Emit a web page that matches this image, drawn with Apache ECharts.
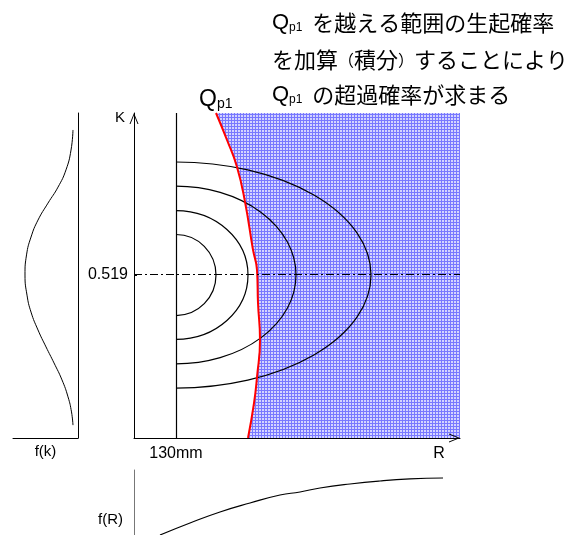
<!DOCTYPE html>
<html>
<head>
<meta charset="utf-8">
<script src="https://cdn.jsdelivr.net/npm/echarts@6/dist/echarts.min.js"></script>
<style>
html, body { margin: 0; padding: 0; background: #fff; }
#chart { width: 575px; height: 535px; }
</style>
</head>
<body>
<div id="chart"></div>
<script>
// axes ranges (R in mm, K dimensionless)
const rMin = 88
const rMax = 414
const kMax = 1.035
const baseR = 130
const meanK = 0.519

// contour ellipses around (baseR, meanK): semi axes
const ellipseR = [40, 72, 120, 195]
const ellipseK = [0.129, 0.205, 0.283, 0.360]

// Q_p1 curve
const qpR = [170, 181, 191, 199, 207, 211, 212, 214, 211, 208, 202]
const qpK = [1.035, 0.949, 0.863, 0.752, 0.599, 0.535, 0.430, 0.312, 0.194, 0.111, 0]

// f(k) density, left panel
const fkK = [0.981, 0.917, 0.854, 0.799, 0.748, 0.694, 0.640, 0.583, 0.519, 0.455, 0.401, 0.344, 0.290, 0.239, 0.185, 0.131, 0.083, 0.041]
const fkVal = [0.095, 0.132, 0.227, 0.378, 0.568, 0.757, 0.889, 0.974, 1.003, 0.965, 0.889, 0.757, 0.605, 0.454, 0.303, 0.189, 0.123, 0.095]

// f(R), bottom panel
const fRR = [114, 144, 174, 204, 234, 254, 274, 304, 334, 364, 397]
const fRVal = [0, 0.185, 0.354, 0.492, 0.615, 0.662, 0.723, 0.785, 0.831, 0.862, 0.877]

const font = "'Liberation Sans', 'Noto Sans CJK JP', sans-serif"
const cjk = "'Noto Sans CJK JP', sans-serif"

// blue grid hatch
function makeHatch() {
  const c = document.createElement('canvas')
  c.width = 3
  c.height = 3
  const ctx = c.getContext('2d')
  ctx.fillStyle = '#d4d4ff'
  ctx.fillRect(0, 0, 3, 3)
  ctx.fillStyle = '#7878ff'
  ctx.fillRect(0, 0, 3, 1)
  ctx.fillRect(0, 0, 1, 3)
  return { image: c, repeat: 'repeat' }
}
const hatch = makeHatch()

// open arrow head
const arrow = 'path://M0,11 L4.5,0 L9,11 L8,11 L4.5,2.2 L1,11 Z'

const chart = echarts.init(document.getElementById('chart'))

const subRich = {
  q: { fontFamily: font, fontSize: 22, color: '#000' },
  s: { fontFamily: font, fontSize: 12, color: '#000', verticalAlign: 'bottom' },
  p: { fontFamily: cjk, fontSize: 16, color: '#000' }
}

chart.setOption({
  animation: false,
  textStyle: { fontFamily: font, color: '#000' },
  grid: [
    { left: 134, top: 113, width: 326, height: 325 },
    { left: 13, top: 113, width: 65, height: 325 },
    { left: 134, top: 470, width: 326, height: 65 }
  ],
  xAxis: [{
    gridIndex: 0, type: 'value', min: rMin, max: rMax, z: 5,
    axisLine: { lineStyle: { color: '#000', width: 1 }, symbol: ['none', arrow], symbolSize: [9, 11], symbolOffset: [0, -5.5] },
    axisTick: { show: false },
    splitLine: { show: false },
    axisLabel: { customValues: [baseR], formatter: v => v + 'mm', fontSize: 16, color: '#000', margin: 8 },
    name: 'R', nameLocation: 'end', nameGap: -21,
    nameTextStyle: { fontSize: 16, color: '#000', align: 'center', verticalAlign: 'top', padding: [8, 0, 0, 0] }
  }, {
    gridIndex: 1, type: 'value', min: 0, max: 1.23, inverse: true,
    axisLine: { lineStyle: { color: '#000', width: 1 } },
    axisTick: { show: false }, axisLabel: { show: false }, splitLine: { show: false },
    name: 'f(k)', nameLocation: 'middle', nameGap: 6,
    nameTextStyle: { fontSize: 15, color: '#000' }
  }, {
    gridIndex: 2, type: 'value', min: rMin, max: rMax, position: 'top',
    axisLine: { lineStyle: { color: '#777', width: 1 } },
    axisTick: { show: false }, axisLabel: { show: false }, splitLine: { show: false }
  }],
  yAxis: [{
    gridIndex: 0, type: 'value', min: 0, max: kMax, z: 5,
    axisLine: { lineStyle: { color: '#000', width: 1 }, symbol: ['none', arrow], symbolSize: [9, 11], symbolOffset: [0, -5.5] },
    axisTick: { customValues: [meanK], inside: true, length: 3, lineStyle: { color: '#000' } },
    splitLine: { show: false },
    axisLabel: { customValues: [meanK], formatter: v => String(v), fontSize: 16, color: '#000', margin: 6 },
    name: 'K', nameLocation: 'end', nameGap: -5,
    nameTextStyle: { fontSize: 15, color: '#000', align: 'right', verticalAlign: 'middle', padding: [0, 9, 0, 0] }
  }, {
    gridIndex: 1, type: 'value', min: 0, max: kMax, position: 'right',
    axisLine: { lineStyle: { color: '#000', width: 1 } },
    axisTick: { show: false }, axisLabel: { show: false }, splitLine: { show: false }
  }, {
    gridIndex: 2, type: 'value', min: 0, max: 1,
    axisLine: { lineStyle: { color: '#777', width: 1 } },
    axisTick: { show: false }, axisLabel: { show: false }, splitLine: { show: false }
  }],
  series: [{
    // exceedance region right of Q_p1
    type: 'custom', xAxisIndex: 0, yAxisIndex: 0, z: 1, silent: true,
    data: [[rMax, kMax]],
    renderItem: function (params, api) {
      const pts = qpR.map((r, i) => api.coord([r, qpK[i]]))
      pts.push(api.coord([rMax, 0]), api.coord([rMax, kMax]))
      return { type: 'polygon', shape: { points: pts }, style: { fill: hatch, stroke: null } }
    }
  }, {
    type: 'custom', xAxisIndex: 0, yAxisIndex: 0, z: 2, silent: true,
    dimensions: ['r', 'k', 'rx', 'ry'],
    encode: { x: 0, y: 1 },
    data: ellipseR.map((rx, i) => [baseR, meanK, rx, ellipseK[i]]),
    renderItem: function (params, api) {
      const c = api.coord([api.value(0), api.value(1)])
      const e = api.coord([api.value(0) + api.value(2), api.value(1) + api.value(3)])
      const rx = e[0] - c[0]
      const ry = c[1] - e[1]
      return {
        type: 'path',
        shape: { pathData: 'M' + c[0] + ' ' + (c[1] - ry) + ' A' + rx + ' ' + ry + ' 0 0 1 ' + c[0] + ' ' + (c[1] + ry) },
        style: { fill: 'none', stroke: '#000', lineWidth: 1.2 }
      }
    }
  }, {
    type: 'line', xAxisIndex: 0, yAxisIndex: 0, z: 3, data: [],
    markLine: {
      silent: true, symbol: 'none', label: { show: false },
      data: [
        { xAxis: baseR, lineStyle: { color: '#000', width: 1.2, type: 'solid' } },
        { yAxis: meanK, lineStyle: { color: '#000', width: 1, type: [8, 3, 2, 3] } }
      ]
    }
  }, {
    type: 'line', xAxisIndex: 0, yAxisIndex: 0, z: 4, smooth: true, symbol: 'none',
    lineStyle: { color: '#ff0000', width: 2 },
    data: qpR.map((r, i) => [r, qpK[i]])
  }, {
    type: 'line', xAxisIndex: 1, yAxisIndex: 1, smooth: true, symbol: 'none',
    lineStyle: { color: '#000', width: 1 },
    data: fkVal.map((f, i) => [f, fkK[i]])
  }, {
    type: 'line', xAxisIndex: 2, yAxisIndex: 2, smooth: true, symbol: 'none',
    lineStyle: { color: '#000', width: 1.2 },
    data: fRR.map((r, i) => [r, fRVal[i]])
  }],
  graphic: [{
    type: 'text', x: 272, y: 23, z: 10,
    style: { text: '{q|Q}{s|p1}  を越える範囲の生起確率', fontFamily: cjk, fontSize: 22, fill: '#000', verticalAlign: 'middle', rich: subRich }
  }, {
    type: 'text', x: 272, y: 60, z: 10,
    style: { text: 'を加算{p|（}積分{p|）}することにより', fontFamily: cjk, fontSize: 22, fill: '#000', verticalAlign: 'middle', rich: subRich }
  }, {
    type: 'text', x: 272, y: 95, z: 10,
    style: { text: '{q|Q}{s|p1}  の超過確率が求まる', fontFamily: cjk, fontSize: 22, fill: '#000', verticalAlign: 'middle', rich: subRich }
  }, {
    type: 'text', x: 199, y: 100, z: 10,
    style: {
      text: '{q|Q}{s|p1}', verticalAlign: 'middle',
      rich: { q: { fontFamily: font, fontSize: 23, color: '#000' }, s: { fontFamily: font, fontSize: 14, color: '#000', verticalAlign: 'bottom' } }
    }
  }, {
    type: 'text', x: 123, y: 520, z: 10,
    style: { text: 'f(R)', fontFamily: font, fontSize: 15, fill: '#000', align: 'right', verticalAlign: 'middle' }
  }]
})
</script>
</body>
</html>
